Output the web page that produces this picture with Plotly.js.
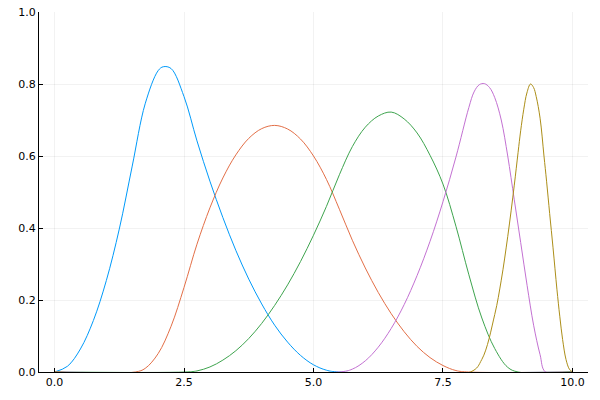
<!DOCTYPE html>
<html>
<head>
<meta charset="utf-8">
<script src="https://cdn.plot.ly/plotly-3.0.1.min.js"></script>
<style>html,body{margin:0;padding:0;background:#fff;}#chart{width:600px;height:400px;}</style>
</head>
<body>
<div id="chart"></div>
<script>
// Series values read (estimated) from the reference picture
const y1x = [0, 0.25, 0.5, 0.75, 1.0, 1.25, 1.5, 1.75, 2.0, 2.1, 2.25, 2.5, 2.75, 3.0, 3.25, 3.5, 3.75, 4.0, 4.25, 4.5, 4.75, 5.0, 5.25, 5.48, 10];
const y1  = [0, 0.016, 0.064, 0.143, 0.254, 0.397, 0.572, 0.745, 0.837, 0.848, 0.843, 0.765, 0.642, 0.530, 0.429, 0.338, 0.258, 0.189, 0.130, 0.083, 0.046, 0.020, 0.005, 0, 0];

const y2x = [0, 1.56, 1.75, 2.0, 2.25, 2.5, 2.75, 3.0, 3.25, 3.5, 3.75, 4.0, 4.25, 4.5, 4.75, 5.0, 5.25, 5.5, 5.75, 6.0, 6.25, 6.5, 6.75, 7.0, 7.25, 7.5, 7.75, 7.99, 10];
const y2  = [0, 0, 0.010, 0.051, 0.127, 0.235, 0.355, 0.456, 0.539, 0.603, 0.649, 0.676, 0.685, 0.675, 0.647, 0.600, 0.535, 0.452, 0.366, 0.289, 0.221, 0.162, 0.112, 0.071, 0.040, 0.018, 0.004, 0, 0];

const y3x = [0, 2.52, 2.75, 3.0, 3.25, 3.5, 3.75, 4.0, 4.25, 4.5, 4.75, 5.0, 5.25, 5.5, 5.75, 6.0, 6.25, 6.5, 6.75, 7.0, 7.25, 7.5, 7.75, 8.0, 8.25, 8.5, 8.75, 8.95, 10];
const y3  = [0, 0, 0.003, 0.014, 0.033, 0.059, 0.093, 0.135, 0.185, 0.242, 0.307, 0.380, 0.460, 0.548, 0.626, 0.680, 0.711, 0.722, 0.703, 0.664, 0.602, 0.522, 0.405, 0.27, 0.15, 0.065, 0.013, 0, 0];

const y4x = [0, 5.5, 5.75, 6.0, 6.25, 6.5, 6.75, 7.0, 7.25, 7.5, 7.75, 8.0, 8.1, 8.2, 8.3, 8.4, 8.5, 8.625, 8.75, 8.875, 9.0, 9.125, 9.25, 9.375, 9.48, 10];
const y4  = [0, 0, 0.008, 0.031, 0.069, 0.121, 0.187, 0.268, 0.363, 0.473, 0.597, 0.735, 0.778, 0.798, 0.801, 0.790, 0.762, 0.70, 0.60, 0.48, 0.36, 0.24, 0.13, 0.048, 0, 0];

const y5x = [0, 8.03, 8.25, 8.5, 8.625, 8.75, 8.875, 8.95, 9.0, 9.06, 9.12, 9.19, 9.25, 9.3, 9.375, 9.45, 9.5, 9.56, 9.625, 9.7, 9.755, 9.81, 9.875, 9.94, 10];
const y5  = [0, 0, 0.035, 0.16, 0.255, 0.376, 0.517, 0.61, 0.67, 0.73, 0.775, 0.80, 0.79, 0.765, 0.705, 0.60, 0.53, 0.44, 0.345, 0.23, 0.155, 0.09, 0.035, 0.008, 0];

const names = ["y1", "y2", "y3", "y4", "y5"];
const colors = ["#009AFA", "#E36F47", "#3EA44E", "#C371D2", "#AC8E18"];
const xs = [y1x, y2x, y3x, y4x, y5x];
const ys = [y1, y2, y3, y4, y5];

const xTickVals = [0, 2.5, 5, 7.5, 10];
const xTickText = ["0.0", "2.5", "5.0", "7.5", "10.0"];
const yTickVals = [0, 0.2, 0.4, 0.6, 0.8, 1.0];
const yTickText = ["0.0", "0.2", "0.4", "0.6", "0.8", "1.0"];

const traces = names.map((n, i) => ({
  type: "scatter", mode: "lines", name: n,
  x: xs[i], y: ys[i],
  line: {color: colors[i], width: 1, shape: "spline", smoothing: 1},
  showlegend: false
}));

const axisCommon = {
  showgrid: true, gridcolor: "rgba(0,0,0,0.1)", gridwidth: 0.5,
  zeroline: false, showline: true, linecolor: "#000", linewidth: 1,
  ticks: "inside", ticklen: 4, tickcolor: "#000", tickwidth: 1,
  tickfont: {family: "DejaVu Sans", size: 11, color: "#000"}
};

const layout = {
  width: 600, height: 400,
  margin: {l: 39, r: 12, t: 12, b: 28},
  paper_bgcolor: "#fff", plot_bgcolor: "#fff",
  xaxis: Object.assign({}, axisCommon, {range: [-0.3, 10.3], tickvals: xTickVals, ticktext: xTickText}),
  yaxis: Object.assign({}, axisCommon, {range: [0, 1], tickvals: yTickVals, ticktext: yTickText}),
  showlegend: false
};

Plotly.newPlot("chart", traces, layout, {displayModeBar: false, staticPlot: true});
</script>
</body>
</html>
